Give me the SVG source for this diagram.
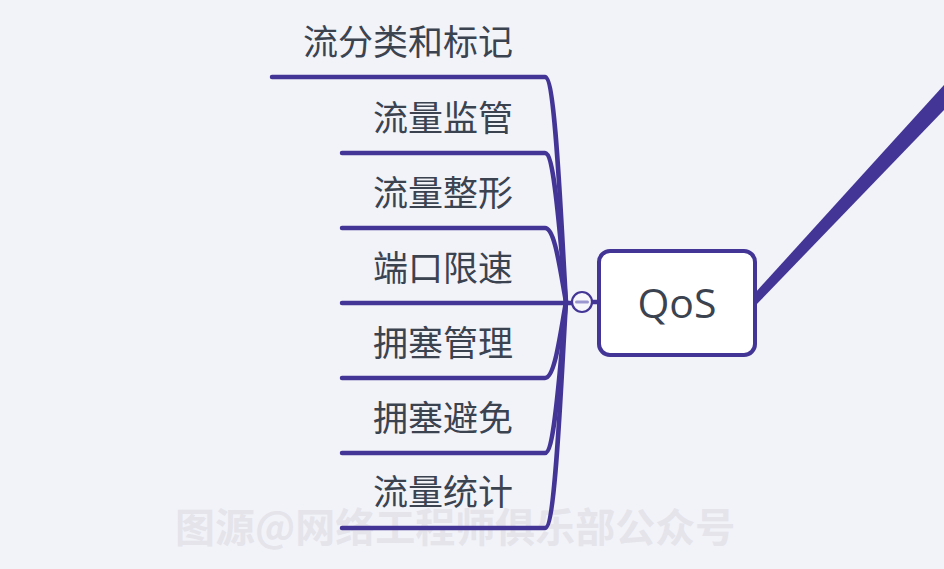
<svg xmlns="http://www.w3.org/2000/svg" width="944" height="569" viewBox="0 0 944 569">
<style>
.ln{fill:none;stroke:#433596;stroke-width:4.5;stroke-linecap:round;stroke-linejoin:round}
.lbl{font-family:"Noto Sans CJK SC","Noto Sans",sans-serif;font-size:35px;fill:#3b4350;text-anchor:end}
</style>
<rect x="0" y="0" width="944" height="569" fill="#f2f3f9"/>
<text x="175" y="542" font-family="'Noto Sans CJK SC',sans-serif" font-weight="bold" font-size="40" fill="#e4e4ea">图源@网络工程师俱乐部公众号</text>
<g id="connectors">
<polygon points="755,293 944,85 944,110 755,306" fill="#433596"/>
<path class="ln" d="M272 77 H545 C555 77 560 200 566 302"/>
<path class="ln" d="M342 153 H545 C555 153 560 240 566 302"/>
<path class="ln" d="M342 228 H545 C555 228 560 270 566 302"/>
<path class="ln" d="M342 303 H572"/>
<path class="ln" d="M342 378 H545 C555 378 560 334 566 302"/>
<path class="ln" d="M342 453 H545 C555 453 560 364 566 302"/>
<path class="ln" d="M342 528 H545 C555 528 560 404 566 302"/>
<path class="ln" d="M592 302 H600"/>
</g>
<g id="n1"><text class="lbl" x="513" y="55">流分类和标记</text></g>
<g id="n2"><text class="lbl" x="513" y="131">流量监管</text></g>
<g id="n3"><text class="lbl" x="513" y="206">流量整形</text></g>
<g id="n4"><text class="lbl" x="513" y="281">端口限速</text></g>
<g id="n5"><text class="lbl" x="513" y="356">拥塞管理</text></g>
<g id="n6"><text class="lbl" x="513" y="431">拥塞避免</text></g>
<g id="n7"><text class="lbl" x="513" y="505">流量统计</text></g>
<g id="collapse">
<circle cx="582" cy="302" r="10" fill="#f6f6fb" stroke="#433596" stroke-width="2.2"/>
<line x1="576.5" y1="302" x2="587.5" y2="302" stroke="#9c97cf" stroke-width="3" stroke-linecap="round"/>
</g>
<g id="qos">
<rect x="599" y="251" width="156" height="104" rx="11" fill="#ffffff" stroke="#433596" stroke-width="4"/>
<text x="677" y="318" font-family="'Open Sans',sans-serif" font-size="41" fill="#3b4350" text-anchor="middle">QoS</text>
</g>
</svg>
